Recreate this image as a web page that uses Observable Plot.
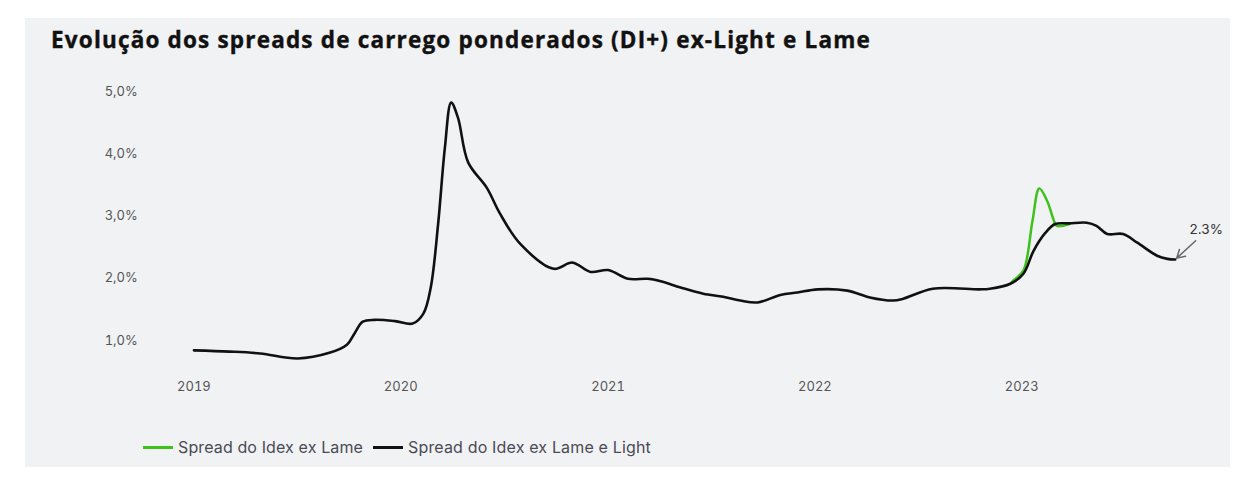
<!DOCTYPE html>
<html><head><meta charset="utf-8">
<script src="https://cdn.jsdelivr.net/npm/d3@7"></script>
<script src="https://cdn.jsdelivr.net/npm/@observablehq/plot@0.6"></script>
<style>
html,body{margin:0;padding:0;background:#fff;}
#panel{position:absolute;left:25px;top:18px;width:1205px;height:449px;background:#f1f2f4;}
#title{position:absolute;left:26px;top:7px;font-family:"Open Sans",Inter,sans-serif;font-weight:700;font-size:22.5px;line-height:30px;color:#111;white-space:nowrap;-webkit-text-stroke:0.4px #111;}
#chart{position:absolute;left:0;top:55px;}
#legend{position:absolute;left:118px;top:418px;font-family:Inter,"Noto Sans",sans-serif;font-size:16px;line-height:22px;color:#4a4a55;display:flex;align-items:center;white-space:nowrap;}
.sw{display:inline-block;width:30px;height:3px;margin-right:5px;}
.item{display:flex;align-items:center;margin-right:10px;}
</style></head>
<body>
<div id="panel">
<div id="title">Evolução dos spreads de carrego ponderados (DI+) ex-Light e Lame</div>
<div id="chart"></div>
<div id="legend">
<span class="item"><span class="sw" style="background:#3cc21b"></span><span class="lt">Spread do Idex ex Lame</span></span>
<span class="item"><span class="sw" style="background:#111"></span><span class="lt">Spread do Idex ex Lame e Light</span></span>
</div>
</div>
<script>
// Spread do Idex ex Lame e Light (black)
const blackDates = ["2019-01-01","2019-03-05","2019-04-28","2019-07-03","2019-08-28","2019-09-28","2019-10-12","2019-10-26","2019-11-16","2019-12-22","2020-01-22","2020-02-10","2020-02-23","2020-03-07","2020-03-19","2020-03-30","2020-04-11","2020-04-29","2020-06-01","2020-06-24","2020-07-30","2020-09-27","2020-10-30","2020-12-01","2021-01-01","2021-02-05","2021-03-12","2021-04-04","2021-05-09","2021-06-18","2021-07-23","2021-08-22","2021-09-22","2021-11-01","2021-12-01","2022-01-06","2022-02-27","2022-04-08","2022-05-19","2022-06-06","2022-07-28","2022-10-19","2022-11-06","2022-12-12","2023-01-04","2023-01-22","2023-02-12","2023-03-01","2023-03-26","2023-04-26","2023-05-13","2023-06-01","2023-06-29","2023-07-24","2023-08-28","2023-09-15","2023-09-29"];
const blackValues = [0.84,0.82,0.79,0.71,0.80,0.93,1.12,1.30,1.33,1.31,1.27,1.43,1.85,2.87,4.10,4.82,4.58,3.86,3.45,3.04,2.55,2.15,2.25,2.10,2.13,1.99,1.99,1.95,1.85,1.75,1.70,1.64,1.61,1.73,1.77,1.82,1.80,1.69,1.64,1.67,1.83,1.82,1.83,1.91,2.07,2.44,2.73,2.87,2.88,2.89,2.84,2.71,2.71,2.57,2.36,2.31,2.30];
// Spread do Idex ex Lame (green) – only where it differs from the black series
const greenDates = ["2022-12-12","2022-12-17","2023-01-04","2023-01-20","2023-02-01","2023-02-15","2023-02-27","2023-03-04","2023-03-26"];
const greenValues = [1.91,1.96,2.12,2.92,3.44,3.24,2.92,2.84,2.87];
const yTicks = [1,2,3,4,5];
const xTicks = ["2019-01-01","2020-01-01","2021-01-01","2022-01-01","2023-01-01"];

// fit title / legend text widths to the reference
function fit(el, target){
  const w = el.getBoundingClientRect().width;
  const n = el.textContent.length;
  el.style.letterSpacing = ((target - w) / n) + "px";
}
fit(document.getElementById("title"), 820);
const lts = document.querySelectorAll(".lt");
fit(lts[0], 185); fit(lts[1], 243);

const parse = d3.utcParse("%Y-%m-%d");
const black = blackDates.map((d,i)=>({date:parse(d), v:blackValues[i]}));
const green = greenDates.map((d,i)=>({date:parse(d), v:greenValues[i]}));
const last = black[black.length-1];
const arrowData = [{x1:d3.utcDay.offset(last.date,36), y1:last.v+0.3, x2:last.date, y2:last.v}];
const fmtPct = v => v.toFixed(1).replace(".",",")+"%";

const chart = Plot.plot({
  width:1205, height:330,
  marginLeft:116.3, marginRight:2, marginTop:5.5, marginBottom:32,
  style:{background:"transparent", fontFamily:"Inter, 'Noto Sans', sans-serif", fontSize:"13px", color:"#555"},
  x:{type:"utc", domain:[parse("2018-10-01"), parse("2024-01-01")], ticks:xTicks.map(parse), tickFormat:d3.utcFormat("%Y"), tickSize:0, tickPadding:10, label:null},
  y:{domain:[0.5,5.2], ticks:yTicks, tickFormat:fmtPct, tickSize:0, tickPadding:4, label:null},
  marks:[
    Plot.line(green,{x:"date", y:"v", stroke:"#3cc21b", strokeWidth:2.5, curve:"catmull-rom"}),
    Plot.line(black,{x:"date", y:"v", stroke:"#111", strokeWidth:2.6, curve:"catmull-rom"}),
    Plot.arrow(arrowData,{x1:"x1", y1:"y1", x2:"x2", y2:"y2", stroke:"#666", strokeWidth:1.5, headLength:9, insetEnd:2}),
    Plot.text([last],{x:"date", y:"v", text:d=>d.v.toFixed(1)+"%", dx:31, dy:-30, fill:"#333", fontSize:13.5})
  ]
});
document.getElementById("chart").appendChild(chart);
</script>
</body></html>
